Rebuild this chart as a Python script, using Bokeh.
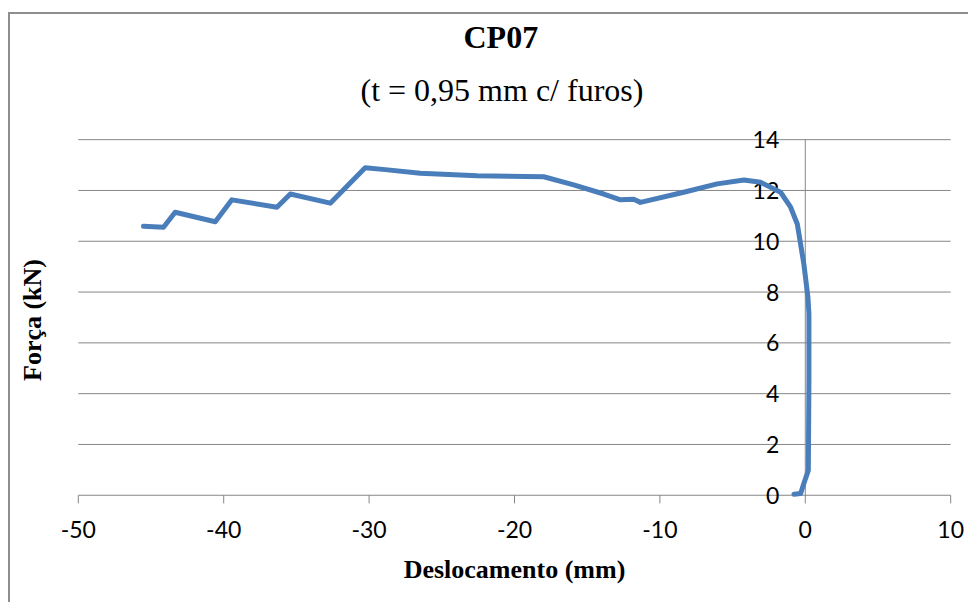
from bokeh.plotting import figure
from bokeh.models import Range1d, FixedTicker, Title
from bokeh.core.properties import value
from bokeh.embed import file_html
from bokeh.resources import INLINE

# Data (displacement in mm, force in kN)
desloc = [-0.78, -0.32, -0.10, 0.21, 0.25, 0.25, 0.18, -0.10, -0.55, -1.01, -1.70,
          -3.08, -4.22, -6.06, -8.36, -11.34, -11.80, -12.71, -13.86, -15.93, -17.99,
          -22.57, -26.48, -28.89, -30.27, -32.67, -35.42, -36.34, -39.44, -40.58,
          -43.34, -44.14, -45.52]
forca = [0.04, 0.07, 0.46, 0.98, 4.52, 7.14, 7.80, 9.11, 10.68, 11.34, 11.93,
         12.32, 12.41, 12.26, 11.93, 11.53, 11.65, 11.63, 11.86, 12.22, 12.54,
         12.58, 12.68, 12.82, 12.89, 11.50, 11.86, 11.34, 11.63, 10.77,
         11.14, 10.55, 10.59]

x_ticks = [-50, -40, -30, -20, -10, 0, 10]
x_tick_labels = [str(v) for v in x_ticks]
y_ticks = [0, 2, 4, 6, 8, 10, 12, 14]
y_tick_labels = [str(v) for v in y_ticks]

title_text = "CP07"
subtitle_text = "(t = 0,95 mm c/ furos)"
x_label = "Deslocamento (mm)"
y_label = "Força (kN)"

GRAY = "#868686"
TICK_FONT = "Lato"
SERIF = "Liberation Serif"

x_lo, x_hi = x_ticks[0], x_ticks[-1]
y_lo, y_hi = y_ticks[0], y_ticks[-1]

p = figure(width=960, height=590, output_backend="svg", toolbar_location=None,
           x_range=Range1d(x_lo - 0.4, x_hi + 0.4),
           y_range=Range1d(y_lo - 0.6, y_hi + 0.4),
           min_border_left=62, min_border_right=14, min_border_top=115,
           min_border_bottom=94,
           styles={"border-left": "2px solid #8e8e8e", "border-top": "2px solid #8e8e8e",
                   "margin-left": "8px", "margin-top": "12px"})
p.outline_line_color = None
p.background_fill_color = "white"
p.border_fill_color = "white"
p.xgrid.grid_line_color = None
p.ygrid.grid_line_color = None

# x axis: labels and title only (line and ticks drawn at y = 0 below)
p.xaxis.ticker = FixedTicker(ticks=x_ticks)
p.xaxis.major_label_overrides = dict(zip(x_ticks, x_tick_labels))
p.xaxis.axis_line_color = None
p.xaxis.major_tick_line_color = None
p.xaxis.minor_tick_line_color = None
p.xaxis.major_tick_out = 0
p.xaxis.major_tick_in = 0
p.xaxis.major_label_text_font = TICK_FONT
p.xaxis.major_label_text_font_size = "23px"
p.xaxis.major_label_text_color = "black"
p.xaxis.major_label_standoff = 10
p.xaxis.axis_label = x_label
p.xaxis.axis_label_text_font = SERIF
p.xaxis.axis_label_text_font_style = "bold"
p.xaxis.axis_label_text_font_size = "26px"
p.xaxis.axis_label_text_color = "black"
p.xaxis.axis_label_standoff = 14

# y axis: only its title on the left; the value axis crosses at x = 0
p.yaxis.ticker = FixedTicker(ticks=[])
p.yaxis.axis_line_color = None
p.yaxis.major_tick_line_color = None
p.yaxis.minor_tick_line_color = None
p.yaxis.major_tick_out = 0
p.yaxis.major_label_standoff = 0
p.yaxis.axis_label = y_label
p.yaxis.axis_label_text_font = SERIF
p.yaxis.axis_label_text_font_style = "bold"
p.yaxis.axis_label_text_font_size = "26px"
p.yaxis.axis_label_text_color = "black"
p.yaxis.axis_label_standoff = 26

# horizontal gridlines and x axis line (y = 0)
n_y = len(y_ticks)
p.segment(x0=[x_lo] * n_y, y0=y_ticks, x1=[x_hi] * n_y, y1=y_ticks,
          line_color=GRAY, line_width=1)
# x tick marks (outside)
p.segment(x0=x_ticks, y0=[0] * len(x_ticks), x1=x_ticks, y1=[-0.32] * len(x_ticks),
          line_color=GRAY, line_width=1)
# vertical value axis crossing at x = 0
p.segment(x0=[0], y0=[y_lo], x1=[0], y1=[y_hi], line_color=GRAY, line_width=1)
# y tick labels next to the crossing axis
p.text(x=[0] * n_y, y=y_ticks, text=y_tick_labels, x_offset=-26,
       text_align="right", text_baseline="middle",
       text_font=value(TICK_FONT), text_font_size="23px", text_color="black")

p.line(desloc, forca, line_color="#4a7ebb", line_width=5, line_join="round",
       line_cap="round")

p.add_layout(Title(text=subtitle_text, align="left", offset=288, standoff=43,
                   text_font=SERIF, text_font_style="normal", text_font_size="32px",
                   text_color="black"), "above")
p.add_layout(Title(text=title_text, align="left", offset=391, standoff=-13,
                   text_font=SERIF, text_font_style="bold", text_font_size="32px",
                   text_color="black"), "above")

open("out.html", "w").write(file_html(p, INLINE))
